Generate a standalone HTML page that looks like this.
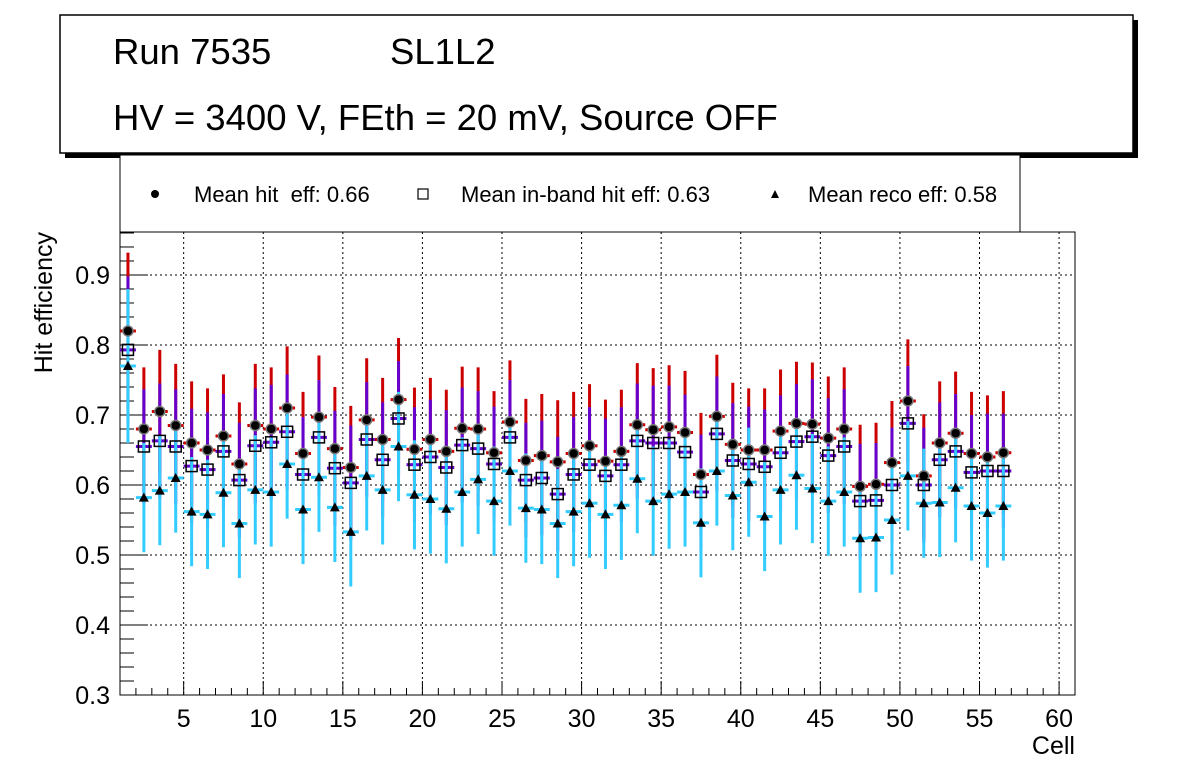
<!DOCTYPE html>
<html><head><meta charset="utf-8"><style>
html,body{margin:0;padding:0;background:#fff;}
svg{display:block;font-family:"Liberation Sans",sans-serif;}
</style></head><body>
<svg id="c" width="1196" height="772" viewBox="0 0 1196 772">
<rect x="65" y="20" width="1073" height="138" fill="#000"/>
<rect x="60" y="15" width="1073" height="138" fill="#fff" stroke="#000" stroke-width="1.5"/>
<text x="113" y="64" font-size="36.5">Run 7535</text>
<text x="390" y="64" font-size="36.5">SL1L2</text>
<text x="113" y="130" font-size="36.5">HV = 3400 V, FEth = 20 mV, Source OFF</text>
<rect x="120" y="155" width="900" height="77" fill="#fff" stroke="#000" stroke-width="1"/>
<g id="plot"></g>
</svg>
<script>
const cells = [];
for (let i = 1; i <= 56; i++) cells.push(i);
const hitEff = [0.82,0.68,0.705,0.685,0.66,0.65,0.67,0.63,0.685,0.68,0.71,0.645,0.697,0.652,0.625,0.693,0.665,0.722,0.651,0.665,0.648,0.681,0.68,0.646,0.69,0.635,0.642,0.633,0.645,0.656,0.634,0.648,0.686,0.679,0.683,0.675,0.615,0.698,0.658,0.65,0.65,0.677,0.688,0.687,0.667,0.68,0.598,0.601,0.632,0.72,0.613,0.66,0.674,0.645,0.64,0.646];
const inBandEff = [0.793,0.655,0.663,0.655,0.627,0.622,0.648,0.607,0.656,0.661,0.676,0.615,0.668,0.624,0.603,0.665,0.636,0.695,0.629,0.64,0.625,0.657,0.652,0.63,0.668,0.607,0.61,0.587,0.615,0.629,0.613,0.629,0.663,0.66,0.66,0.647,0.59,0.673,0.635,0.63,0.626,0.646,0.662,0.669,0.642,0.655,0.577,0.578,0.6,0.688,0.6,0.636,0.648,0.618,0.62,0.62];
const recoEff = [0.77,0.582,0.592,0.61,0.562,0.558,0.589,0.545,0.593,0.59,0.63,0.565,0.611,0.568,0.533,0.613,0.593,0.655,0.586,0.58,0.566,0.59,0.608,0.577,0.62,0.567,0.565,0.545,0.562,0.574,0.558,0.571,0.609,0.577,0.587,0.59,0.546,0.62,0.585,0.604,0.555,0.593,0.614,0.595,0.577,0.59,0.524,0.525,0.55,0.613,0.574,0.575,0.596,0.57,0.56,0.57];
const hitErr = [0.112].concat(new Array(55).fill(0.088));
const inBandErr = [0.105].concat(new Array(55).fill(0.082));
const recoErr = [0.11].concat(new Array(55).fill(0.078));
const xTicks = [5,10,15,20,25,30,35,40,45,50,55,60];
const yTicks = [0.3,0.4,0.5,0.6,0.7,0.8,0.9];
const legendLabels = ["Mean hit  eff: 0.66","Mean in-band hit eff: 0.63","Mean reco eff: 0.58"];

const X0=120,X1=1075,Y0=232,Y1=695;
const xMin=1,xMax=61,yMin=0.3,yMax=0.9614;
const sx=v=>X0+(v-xMin)/(xMax-xMin)*(X1-X0);
const sy=v=>Y1-(v-yMin)/(yMax-yMin)*(Y1-Y0);
const NS="http://www.w3.org/2000/svg";
const g=document.getElementById('plot');
function mk(tag,attrs,parent){const e=document.createElementNS(NS,tag);for(const k in attrs)e.setAttribute(k,attrs[k]);(parent||g).appendChild(e);return e;}

xTicks.forEach(t=>{const l=mk('line',{x1:sx(t),x2:sx(t),y1:Y0,y2:Y1,stroke:'#000','stroke-dasharray':'2,3','stroke-width':1});

});
yTicks.forEach(t=>{const l=mk('line',{x1:X0,x2:X1,y1:sy(t),y2:sy(t),stroke:'#000','stroke-dasharray':'2,3','stroke-width':1});

});

const fr=mk('rect',{x:X0,y:Y0,width:X1-X0,height:Y1-Y0,fill:'none',stroke:'#000','stroke-width':1});



for(let v=2;v<=61;v++){const major=v%5===0;const l=mk('line',{x1:sx(v),x2:sx(v),y1:Y1,y2:Y1-(major?14:7),stroke:'#000'});

}
for(let k=0;k<=33;k++){const v=0.3+k*0.02;if(v>yMax)break;const major=k%5===0;const l=mk('line',{x1:X0,x2:X0+(major?28:14),y1:sy(v),y2:sy(v),stroke:'#000'});

}
xTicks.forEach(t=>{const tx=mk('text',{x:sx(t),y:Y1+32,'font-size':25,'text-anchor':'middle'});tx.textContent=t;

});
yTicks.forEach(t=>{const tx=mk('text',{x:X0-10,y:sy(t)+9,'font-size':25,'text-anchor':'end'});tx.textContent=t.toFixed(1);

});
const xt=mk('text',{x:X1,y:754,'font-size':25,'text-anchor':'end'});xt.textContent='Cell';


const yt=mk('text',{x:0,y:0,'font-size':25,'text-anchor':'end',transform:'translate(52,232) rotate(-90)'});yt.textContent='Hit efficiency';



const series=[
 {vals:hitEff,err:hitErr,col:'#cc0000',name:'hit'},
 {vals:inBandEff,err:inBandErr,col:'#6600cc',name:'inband'},
 {vals:recoEff,err:recoErr,col:'#33ccff',name:'reco'}];
series.forEach(s=>{
 s.vals.forEach((v,i)=>{
  const c=cells[i]+0.5;
  const e=mk('line',{x1:sx(c),x2:sx(c),y1:sy(v+s.err[i]),y2:sy(v-s.err[i]),stroke:s.col,'stroke-width':3});
  
  
  const h=mk('line',{x1:sx(c-0.5),x2:sx(c+0.5),y1:sy(v),y2:sy(v),stroke:s.col,'stroke-width':3});
  
  
 });
});
hitEff.forEach((v,i)=>{const c=sx(cells[i]+0.5);
 const m=mk('circle',{cx:c,cy:sy(v),r:5,fill:'#000',stroke:'#777','stroke-width':1.5});
 
 });
inBandEff.forEach((v,i)=>{const c=sx(cells[i]+0.5);
 const m=mk('rect',{x:c-5.5,y:sy(v)-5.5,width:11,height:11,fill:'none',stroke:'#000','stroke-width':1.5});
 
 });
recoEff.forEach((v,i)=>{const c=sx(cells[i]+0.5),y=sy(v);
 const m=mk('polygon',{points:`${c-5},${y+4} ${c+5},${y+4} ${c},${y-5}`,fill:'#000'});
 
 });

const lx=[155,423,775],ltx=[194,461,808];
const l1=mk('circle',{cx:lx[0],cy:194,r:4,fill:'#000'});


const l2=mk('rect',{x:lx[1]-5,y:189,width:10,height:10,fill:'none',stroke:'#000','stroke-width':1.2});


const l3=mk('polygon',{points:`${lx[2]-4},${198} ${lx[2]+4},${198} ${lx[2]},${190}`,fill:'#000'});


legendLabels.forEach((t,i)=>{const tx=mk('text',{x:ltx[i],y:202,'font-size':22,style:'white-space:pre'});tx.textContent=t;

});
</script>
</body></html>
